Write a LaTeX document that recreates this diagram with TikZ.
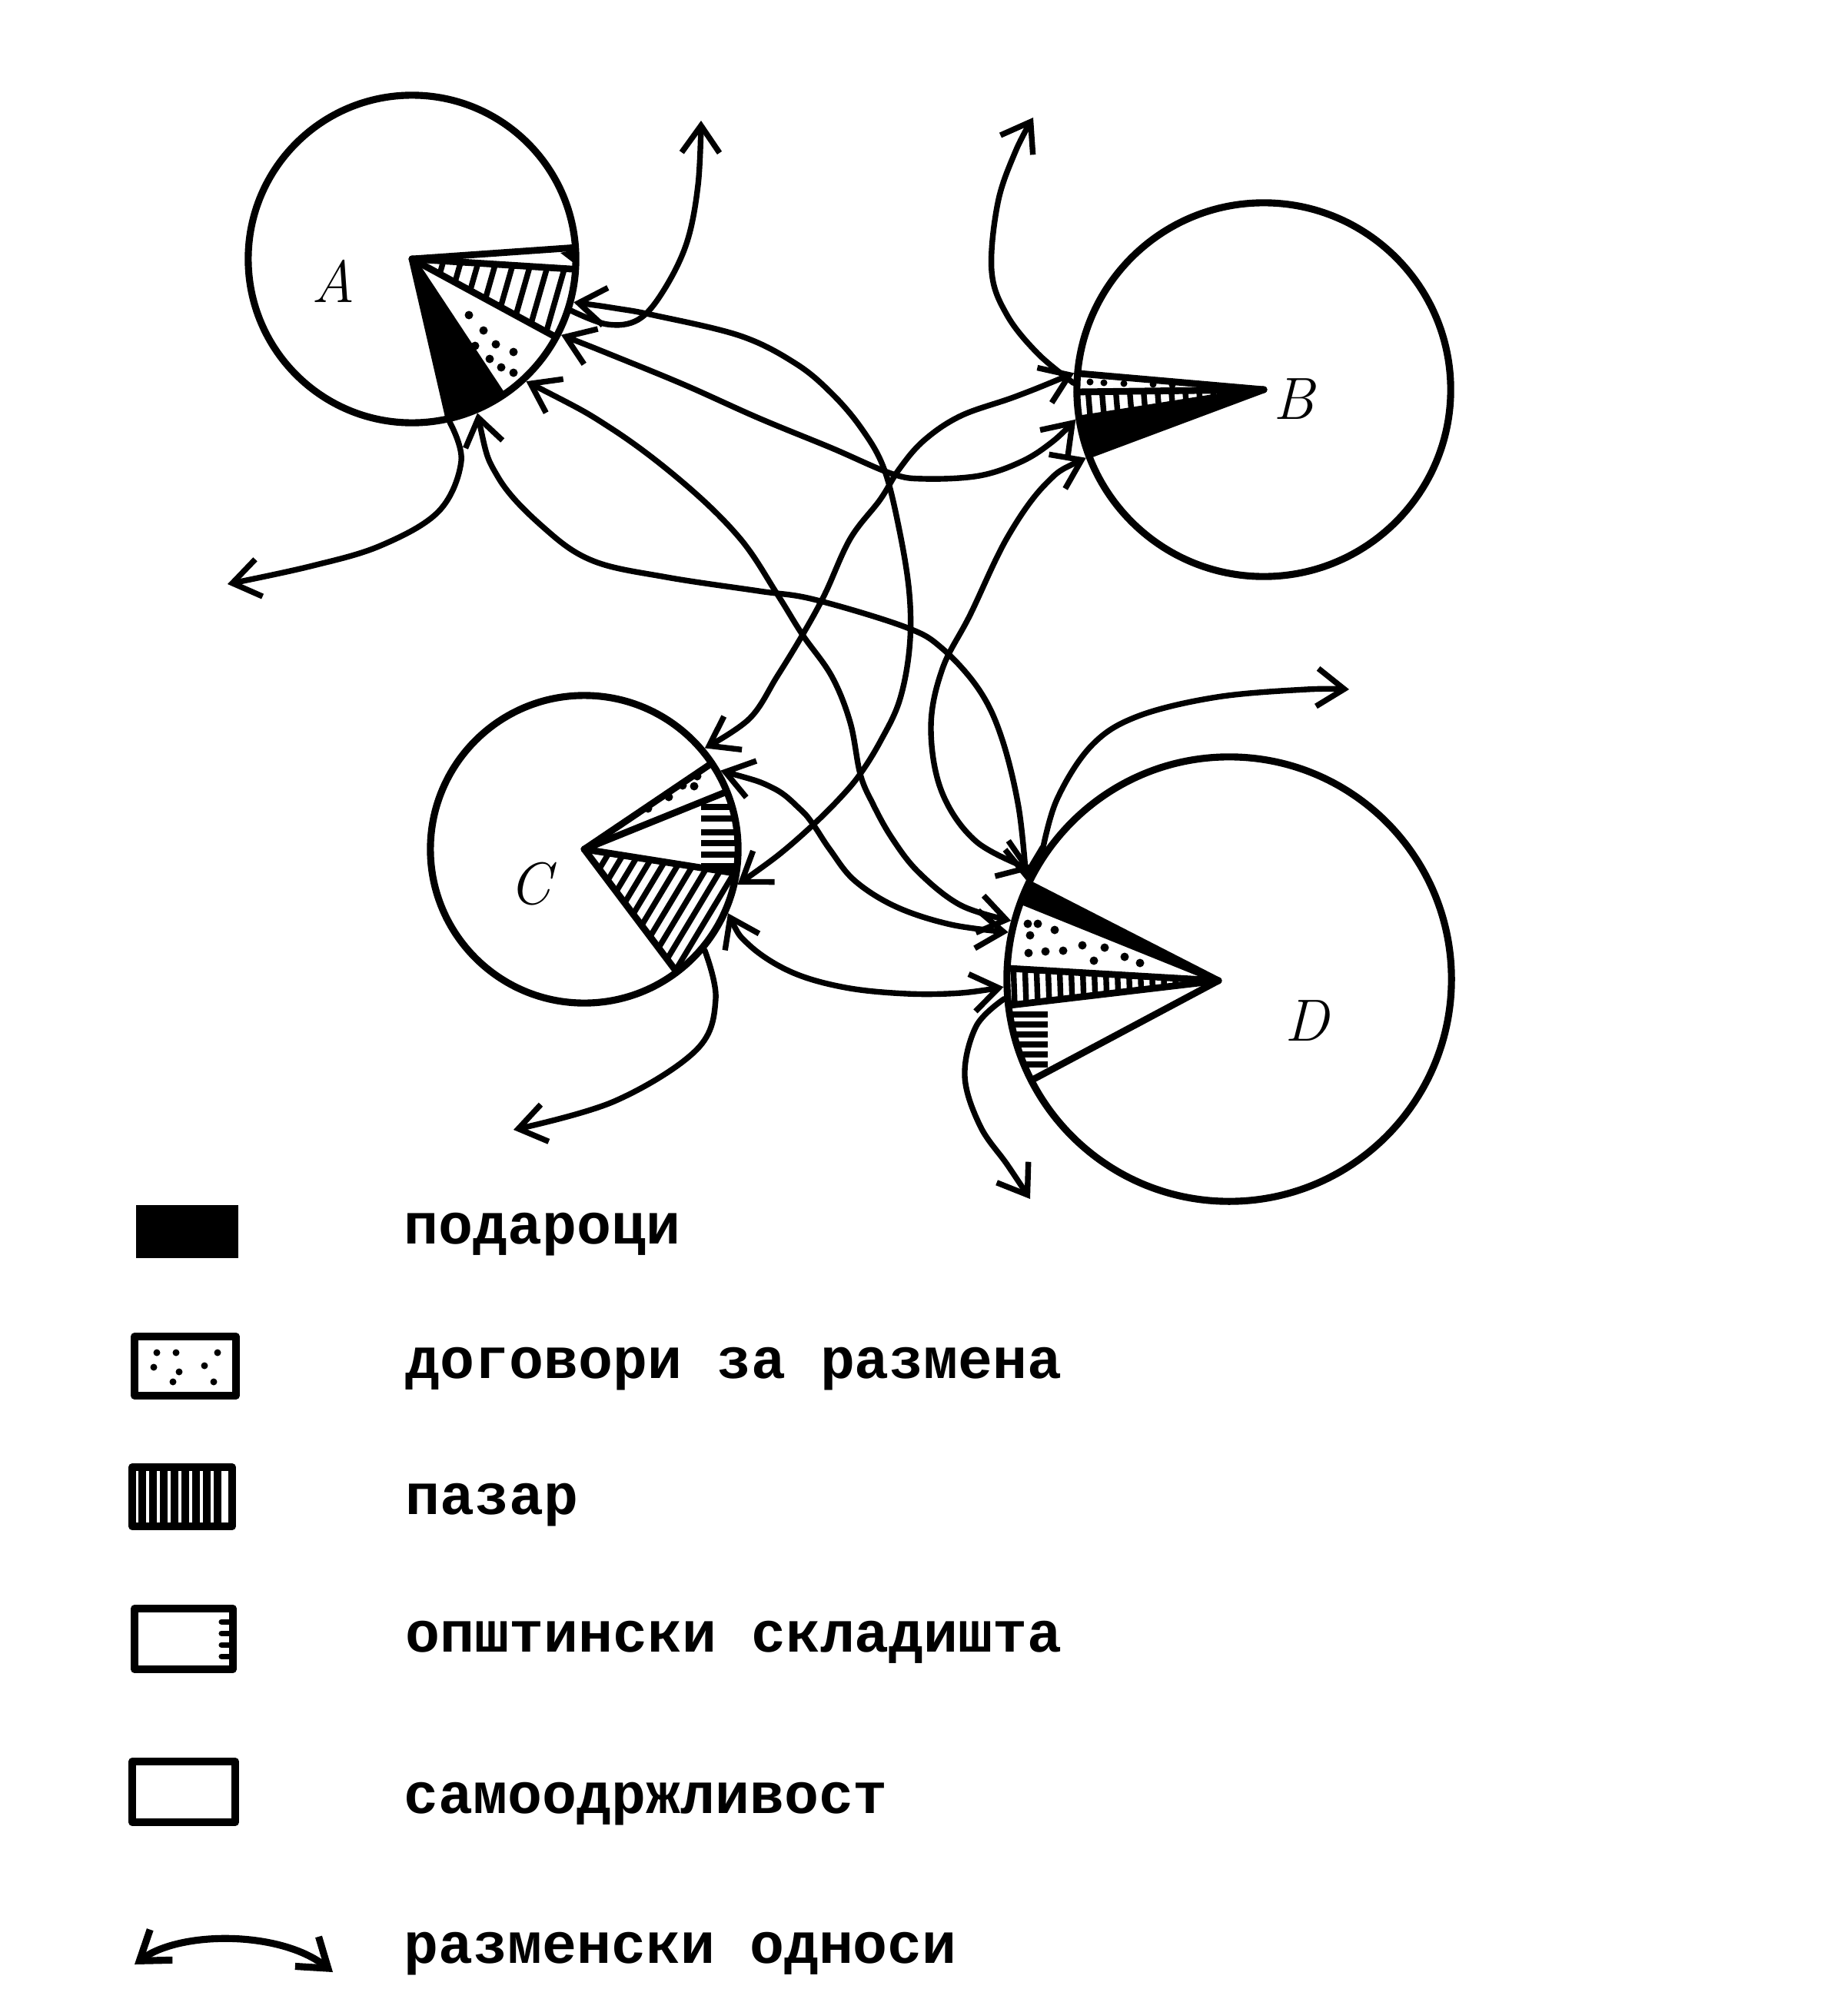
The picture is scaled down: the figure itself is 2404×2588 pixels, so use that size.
\documentclass[tikz,border=0pt]{standalone}
\usepackage{fontspec}
\newfontfamily\legfont{Liberation Mono}[BoldFont={* Bold}]
\usetikzlibrary{arrows.meta,calc}
\newcommand\hatchlines[5]{\foreach \k in {#2,#3,...,#4} \draw[hatch] ($(#1:\k)+({#1+90}:#5)$) -- ($(#1:\k)+({#1-90}:#5)$);}
\begin{document}
\begin{tikzpicture}[x=0.01cm,y=-0.01cm,line cap=round,line join=round,
  ring/.style={draw,circle,line width=2.6pt,inner sep=0pt},
  link/.style={line width=2.1pt,{Straight Barb[length=10pt,width=14pt]}-{Straight Barb[length=10pt,width=14pt]}},
  outlink/.style={line width=2.1pt,-{Straight Barb[length=10pt,width=14pt]}},
  edge line/.style={line width=2.5pt},
  hatch/.style={line width=2.1pt,line cap=butt},
  lab/.style={font=\fontsize{22}{26}\selectfont\itshape},
  legtext/.style={anchor=base west,inner sep=0pt,font=\legfont\bfseries\fontsize{21.3}{26}\selectfont},
  legbox/.style={line width=2.8pt}]
\fill[white] (0,0) rectangle (2404,2588);
\useasboundingbox (0,0) rectangle (2404,2588);

% ---------- circles ----------
\node[ring,minimum size=4.26cm] (A) at (536,337) {};
\node[ring,minimum size=4.86cm] (B) at (1644,507) {};
\node[ring,minimum size=4.00cm] (C) at (760,1105) {};
\node[ring,minimum size=5.78cm] (D) at (1599,1274) {};

\node[lab] (labA) at (434,366) {A};
\node[lab] (labB) at (1683,519) {B};
\node[lab] (labC) at (690,1150) {C};
\node[lab] (labD) at (1700,1328) {D};

% ---------- sector A ----------
\begin{scope}[shift={(536,337)}]
\fill (0,0) -- (56.5:213) arc[start angle=56.5,end angle=77,radius=213] -- cycle;
\begin{scope}
\clip (0,0) -- (3.6:213) arc[start angle=3.6,end angle=28.5,radius=213] -- cycle;
\hatchlines{16}{40}{62}{230}{120}
\end{scope}
\fill (193,-8) -- (210,-12) -- (210,5) -- cycle;
\foreach \a in {-4,3.6,28.5,56.5,77} \draw[edge line] (0,0) -- (\a:213);
\end{scope}
\foreach \p in {(610,410),(629,430),(618,450),(645,448),(668,458),(637,467),(652,478),(668,485)}
  \fill \p circle[radius=5.5];

% ---------- sector B ----------
\begin{scope}[shift={(1644,507)}]
\fill (0,0) -- (159.5:243) arc[start angle=159.5,end angle=171,radius=243] -- cycle;
\begin{scope}
\clip (0,0) -- (171:243) arc[start angle=171,end angle=179.3,radius=243] -- cycle;
\hatchlines{175.15}{30}{48}{260}{60}
\end{scope}
\foreach \a in {159.5,171,179.3,185} \draw[edge line] (0,0) -- (\a:243);
\end{scope}
\foreach \p in {(1418,497),(1436,498),(1462,499),(1500,500),(1525,501)}
  \fill \p circle[radius=4.5];

% ---------- sector C ----------
\begin{scope}[shift={(760,1105)}]
\begin{scope}
\clip (0,0) -- (9:200) arc[start angle=9,end angle=53,radius=200] -- cycle;
\hatchlines{31}{30}{47}{215}{130}
\end{scope}
\begin{scope}
\clip (0,0) -- (-22:200) arc[start angle=-22,end angle=9,radius=200] -- cycle;
\foreach \y in {-55,-40,-22,-8,7,22} \draw[hatch] (152,\y) -- (240,\y);
\end{scope}
\foreach \a in {-34,-22,9,53} \draw[edge line] (0,0) -- (\a:200);
\end{scope}
\foreach \p in {(907,1010),(888,1022),(903,1023),(870,1037),(843,1052)}
  \fill \p circle[radius=5.5];

% ---------- sector D ----------
\begin{scope}[shift={(1599,1274)}]
\fill (-14,2) -- (200.6:289) arc[start angle=200.6,end angle=205.5,radius=289] -- cycle;
\begin{scope}
\clip (-14,2) -- (173.2:289) arc[start angle=173.2,end angle=182.8,radius=289] -- cycle;
\hatchlines{178}{40}{55}{300}{60}
\end{scope}
\begin{scope}
\clip (-14,2) -- (152.9:289) arc[start angle=152.9,end angle=173.2,radius=289] -- cycle;
\foreach \y in {46,59,72,85,98,111} \draw[hatch] (-300,\y) -- (-236,\y);
\end{scope}
\foreach \a in {152.9,173.2,182.8,200.6,205.5} \draw[edge line] (-14,2) -- (\a:289);
\end{scope}
\foreach \p in {(1337,1202),(1350,1202),(1372,1210),(1340,1217),(1338,1240),(1360,1238),(1383,1237),(1408,1230),(1437,1233),(1423,1250),(1463,1245),(1483,1253)}
  \fill \p circle[radius=5.5];

% ---------- connector end points ----------
\coordinate (aP) at (A.-15);
\coordinate (aE1) at (A.-18);
\coordinate (aQ) at (A.-27);
\coordinate (aT) at (A.-47);
\coordinate (aU) at (A.-67);
\coordinate (aE2) at (A.-77);
\coordinate (bE3) at (B.178);
\coordinate (bR) at (B.175);
\coordinate (bQ) at (B.189);
\coordinate (bW) at (B.201);
\coordinate (cR) at (C.40);
\coordinate (cS) at (C.30);
\coordinate (cP) at (C.-13);
\coordinate (cV) at (C.-24);
\coordinate (cE6) at (C.-40);
\coordinate (dE4) at (D.146);
\coordinate (dW) at (D.151);
\coordinate (dU) at (D.154);
\coordinate (dT) at (D.165);
\coordinate (dS) at (D.168);
\coordinate (dV) at (D.182);
\coordinate (dE5) at (D.185);
\coordinate (eA1) at (912,157);
\coordinate (eA2) at (296,760);
\coordinate (eB) at (1344,153);
\coordinate (eC) at (668,1470);
\coordinate (eD1) at (1755,897);
\coordinate (eD2) at (1340,1560);

% ---------- exchange relations ----------
% A - C
\draw[link] plot[smooth,tension=0.6] coordinates {(aP) (800,401) (850,410) (963,437) (1035,473) (1082,512) (1121,558) (1150,610) (1170,690) (1183,773) (1183,844) (1170,912) (1145,965) (1119,1007) (1094,1037) (1058,1073) (1012,1113) (cP)};
% A - B
\draw[link] plot[smooth,tension=0.6] coordinates {(aQ) (796,462) (891,501) (987,544) (1082,583) (1159,616) (1202,623) (1274,619) (1330,600) (1370,574) (bQ)};
% B - C
\draw[link] plot[smooth,tension=0.6] coordinates {(bR) (1321,516) (1250,541) (1202,573) (1170,610) (1145,650) (1106,701) (1073,773) (1044,826) (1011,880) (975,935) (cR)};
% A - D (left)
\draw[link] plot[smooth,tension=0.6] coordinates {(aT) (796,558) (891,630) (963,701) (1011,773) (1044,826) (1082,880) (1106,940) (1119,1007) (1135,1045) (1160,1090) (1195,1135) (1250,1178) (dT)};
% C - D (upper)
\draw[link] plot[smooth,tension=0.6] coordinates {(cS) (1005,1025) (1041,1053) (1058,1073) (1080,1106) (1112,1146) (1166,1180) (1237,1203) (dS)};
% A - D (top)
\draw[link] plot[smooth,tension=0.6] coordinates {(aU) (648,621) (709,688) (772,730) (867,751) (987,769) (1059,780) (1178,816) (1226,844) (1274,898) (1303,960) (1325,1050) (dU)};
% C - D (lower)
\draw[link] plot[smooth,tension=0.6] coordinates {(cV) (975,1230) (1030,1265) (1100,1285) (1180,1293) (1250,1292) (dV)};
% B - D
\draw[link] plot[smooth,tension=0.6] coordinates {(bW) (1360,630) (1310,700) (1262,800) (1226,870) (1211,946) (1225,1030) (1270,1095) (dW)};

% ---------- outward relations ----------
\draw[outlink] plot[smooth,tension=0.6] coordinates {(aE1) (790,422) (830,416) (862,380) (893,317) (908,241) (eA1)};
\draw[outlink] plot[smooth,tension=0.6] coordinates {(aE2) (600,600) (571,665) (495,710) (403,737) (eA2)};
\draw[outlink] plot[smooth,tension=0.6] coordinates {(bE3) (1350,460) (1310,410) (1290,353) (1298,264) (1321,197) (eB)};
\draw[outlink] plot[smooth,tension=0.6] coordinates {(dE4) (1375,1040) (1420,970) (1480,932) (1583,907) (1700,897) (eD1)};
\draw[outlink] plot[smooth,tension=0.6] coordinates {(dE5) (1270,1335) (1255,1400) (1275,1465) (1310,1515) (eD2)};
\draw[outlink] plot[smooth,tension=0.6] coordinates {(cE6) (931,1300) (906,1366) (799,1433) (eC)};

% ---------- legend ----------
\fill (177,1568) rectangle (310,1637);
\draw[legbox] (175,1739) rectangle (307,1816);
\foreach \p in {(204,1760),(229,1760),(283,1760),(200,1779),(233,1785),(266,1777),(225,1798),(278,1798)}
  \fill \p circle[radius=4.5];
\draw[legbox] (172,1909) rectangle (302,1986);
\foreach \x in {185,199,...,292} \draw[line width=2.8pt,line cap=butt] (\x,1911) -- (\x,1984);
\draw[legbox] (175,2093) rectangle (303,2172);
\foreach \y in {2110,2125,2140,2155} \draw[line width=2pt] (288,\y) -- (303,\y);
\draw[legbox] (172,2292) rectangle (306,2371);
\coordinate (la1) at (175,2556);
\coordinate (la2) at (433,2566);
\draw[link,line width=2.6pt] (la1) .. controls (235,2512) and (365,2512) .. (la2);

\node[legtext] (t1) at (525,1618) {подароци};
\node[legtext] (t2) at (527,1793) {договори за размена};
\node[legtext] (t3) at (527,1970) {пазар};
\node[legtext] (t4) at (527,2149) {општински складишта};
\node[legtext] (t5) at (525,2359) {самоодржливост};
\node[legtext] (t6) at (525,2554) {разменски односи};
\end{tikzpicture}
\end{document}
